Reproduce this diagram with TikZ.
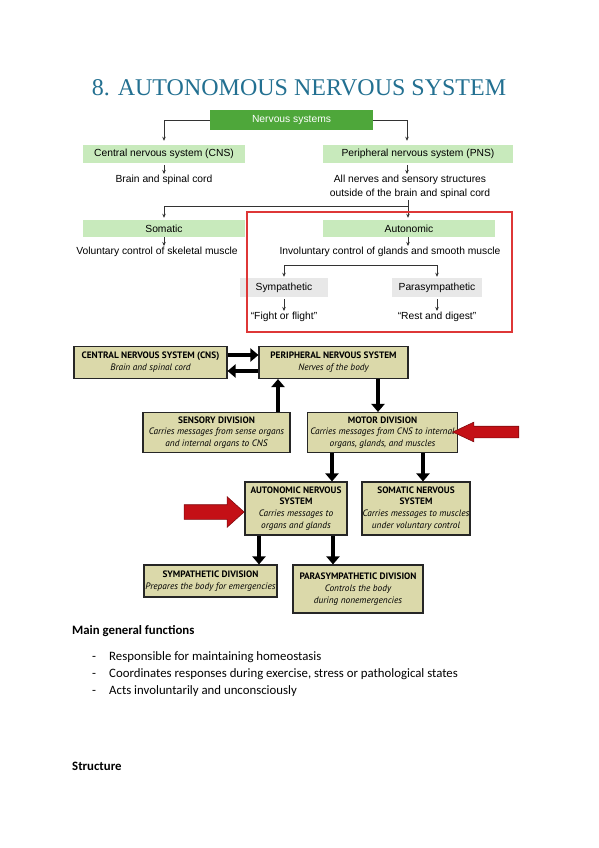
\documentclass[tikz,border=0pt]{standalone}
\usepackage{fontspec}
\setmainfont{Liberation Serif}
\newfontfamily\arialfont{Liberation Sans}
\newfontfamily\boxfont{PT Sans}
\newfontfamily\bodyfont{Carlito}
\usetikzlibrary{arrows.meta,shapes.arrows}

\definecolor{titleblue}{RGB}{35,112,145}
\definecolor{nsgreen}{RGB}{78,167,58}
\definecolor{palegreen}{RGB}{200,234,188}
\definecolor{palegrey}{RGB}{232,232,232}
\definecolor{framered}{RGB}{222,55,55}
\definecolor{khaki}{RGB}{219,217,170}
\definecolor{blockred}{RGB}{196,16,22}

\begin{document}
\begin{tikzpicture}[x=1pt,y=-1pt,
	toptext/.style={inner sep=1pt, align=center, font=\arialfont\fontsize{10.3}{14}\selectfont},
	headbox/.style={toptext, fill=nsgreen, text=white, minimum width=163pt, minimum height=20pt, inner sep=0},
	greenbox/.style={toptext, fill=palegreen, minimum height=18pt, inner sep=0},
	greybox/.style={toptext, fill=palegrey, minimum height=19pt, inner sep=0},
	tarrow/.style={-{Stealth[length=4pt,width=3.5pt]}, line width=0.8pt, black!80},
	kbox/.style={draw=black!85, line width=1.1pt, fill=khaki, inner sep=0, align=center, font=\boxfont\fontsize{9.3}{11.8}\selectfont},
	fat/.style={-{Triangle[length=8pt,width=13pt]}, line width=4.5pt},
	redblock/.style={single arrow, fill=blockred, draw=blockred!65!black, line width=0.6pt},
	bodytext/.style={anchor=base west, inner sep=0, font=\bodyfont\fontsize{12.8}{15}\selectfont}]
	\useasboundingbox (0,0) rectangle (599,848);

	% title
	\node[text=titleblue, font=\fontsize{24}{28}\selectfont] (title) at (299,88) {8. AUTONOMOUS NERVOUS SYSTEM};

	% upper chart
	\node[headbox] (ns) at (291.5,120) {Nervous systems};
	\node[greenbox, minimum width=162pt] (cns) at (164,154) {Central nervous system (CNS)};
	\node[greenbox, minimum width=190pt] (pns) at (418,154) {Peripheral nervous system (PNS)};
	\draw[tarrow, shorten >=4pt] (ns.west) -| (cns.north);
	\draw[tarrow, shorten >=4pt] (ns.east) -| ([xshift=-11pt]pns.north);

	\node[toptext] (brain) at (164,180) {Brain and spinal cord};
	\node[toptext] (allnerves) at (410,187) {All nerves and sensory structures\\outside of the brain and spinal cord};
	\draw[tarrow, shorten <=2pt] (cns.south) -- (brain.north);
	\draw[tarrow, shorten <=2pt] ([xshift=-11pt]pns.south) -- ([xshift=-11pt]pns.south |- allnerves.north);

	\node[greenbox, minimum width=162pt, minimum height=17pt] (som) at (164,228.5) {Somatic};
	\node[greenbox, minimum width=172pt, minimum height=17pt] (auto) at (409,228.5) {Autonomic};
	\coordinate (fork) at (408,206);
	\draw[line width=0.8pt, black!80] (allnerves.south -| fork) -- (fork);
	\draw[tarrow, shorten >=2pt] (fork) -| (som.north);
	\draw[tarrow, shorten >=2pt] (fork) -- (fork |- auto.north);

	\node[toptext] (vol) at (157,252) {Voluntary control of skeletal muscle};
	\node[toptext] (invol) at (390,252) {Involuntary control of glands and smooth muscle};
	\draw[tarrow] (som.south) -- (som.south |- vol.north);
	\draw[tarrow] ([xshift=-1pt]auto.south) -- ([xshift=-1pt]auto.south |- invol.north);

	\node[greybox, minimum width=88pt] (sym) at (284,287.5) {Sympathetic};
	\node[greybox, minimum width=90pt] (para) at (437,287.5) {Parasympathetic};
	\coordinate (fork2) at (361,265);
	\draw[tarrow, shorten >=1pt] (fork2) -| (sym.north);
	\draw[tarrow, shorten >=1pt] (fork2) -| (para.north);

	\node[toptext] (fight) at (284,317) {“Fight or flight”};
	\node[toptext] (rest) at (437,317) {“Rest and digest”};
	\draw[tarrow, shorten <=2pt] (sym.south) -- (fight.north);
	\draw[tarrow, shorten <=2pt] (para.south) -- (rest.north);

	\draw[framered, line width=1.2pt] (247,212) rectangle (512,332);

	% lower chart
	\node[kbox, minimum width=153pt, minimum height=32pt] (cns2) at (150.5,362.5) {{\bfseries CENTRAL NERVOUS SYSTEM (CNS)}\\{\itshape Brain and spinal cord}};
	\node[kbox, minimum width=149pt, minimum height=32pt] (pns2) at (333.5,362.5) {{\bfseries PERIPHERAL NERVOUS SYSTEM}\\{\itshape Nerves of the body}};
	\draw[fat] ([yshift=7.5pt]cns2.east) -- ([yshift=7.5pt]pns2.west);
	\draw[fat] ([yshift=-8.5pt]pns2.west) -- ([yshift=-8.5pt]cns2.east);

	\node[kbox, minimum width=147pt, minimum height=40pt] (sens) at (216.5,432.5) {{\bfseries SENSORY DIVISION}\\{\itshape Carries messages from sense organs}\\{\itshape and internal organs to CNS}};
	\node[kbox, minimum width=150pt, minimum height=40pt] (motor) at (382.5,432.5) {{\bfseries MOTOR DIVISION}\\{\itshape Carries messages from CNS to internal}\\{\itshape organs, glands, and muscles}};
	\draw[fat] ([xshift=61.5pt]sens.north) -- ([xshift=61.5pt]sens.north |- pns2.south);
	\draw[fat] ([xshift=44.5pt]pns2.south) -- ([xshift=-4.5pt]motor.north);
	\node[redblock, shape border rotate=180, inner sep=5.5pt, minimum height=66pt, single arrow head extend=4pt, single arrow tip angle=50] (redleft) at (492,432) {};

	\node[kbox, minimum width=102pt, minimum height=53pt] (ans) at (296,508.5) {{\bfseries AUTONOMIC NERVOUS}\\{\bfseries SYSTEM}\\{\itshape Carries messages to}\\{\itshape organs and glands}};
	\node[kbox, minimum width=108pt, minimum height=53pt] (sns) at (416,508.5) {{\bfseries SOMATIC NERVOUS}\\{\bfseries SYSTEM}\\{\itshape Carries messages to muscles}\\{\itshape under voluntary control}};
	\draw[fat] ([xshift=-50.5pt]motor.south) -- ([xshift=36pt]ans.north);
	\draw[fat] ([xshift=40.5pt]motor.south) -- ([xshift=7pt]sns.north);
	\node[redblock, inner sep=7pt, minimum height=60pt, single arrow head extend=8pt, single arrow tip angle=84] (redright) at (210,512) {};

	\node[kbox, minimum width=133pt, minimum height=32pt] (symd) at (210.5,581) {{\bfseries SYMPATHETIC DIVISION}\\{\itshape Prepares the body for emergencies}};
	\node[kbox, minimum width=130pt, minimum height=48pt] (parad) at (358,589) {{\bfseries PARASYMPATHETIC DIVISION}\\{\itshape Controls the body}\\{\itshape during nonemergencies}};
	\draw[fat] ([xshift=-37pt]ans.south) -- ([xshift=48.5pt]symd.north);
	\draw[fat] ([xshift=37pt]ans.south) -- ([xshift=-25pt]parad.north);

	% text below
	\node[bodytext, font=\bodyfont\bfseries\fontsize{12.8}{15}\selectfont] (mainhead) at (72,634) {Main general functions};
	\node[bodytext] (dash1) at (92,660) {-};
	\node[bodytext] (item1) at (109,660) {Responsible for maintaining homeostasis};
	\node[bodytext] (dash2) at (92,677) {-};
	\node[bodytext] (item2) at (109,677) {Coordinates responses during exercise, stress or pathological states};
	\node[bodytext] (dash3) at (92,694) {-};
	\node[bodytext] (item3) at (109,694) {Acts involuntarily and unconsciously};
	\node[bodytext, font=\bodyfont\bfseries\fontsize{12.8}{15}\selectfont] (structhead) at (72,770) {Structure};
\end{tikzpicture}
\end{document}
